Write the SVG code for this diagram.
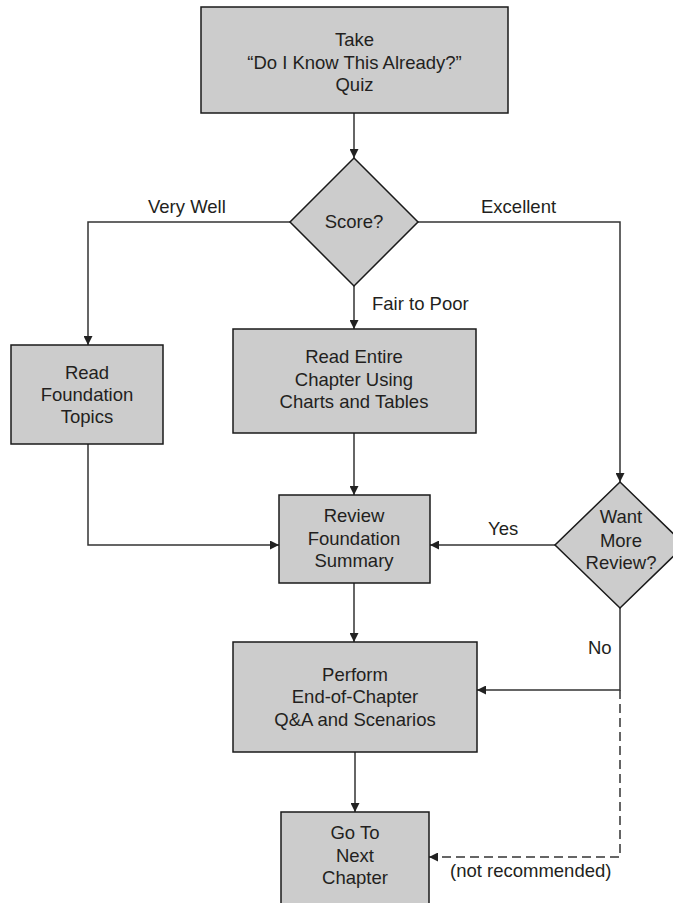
<svg xmlns="http://www.w3.org/2000/svg" width="673" height="903" viewBox="0 0 673 903">
<style>
.box{fill:#cccccc;stroke:#1a1a1a;stroke-width:1.5}
.t{font-family:"Liberation Sans",Arial,sans-serif;font-size:18.5px;fill:#231f20;text-anchor:middle}
.lbl{font-family:"Liberation Sans",Arial,sans-serif;font-size:18.5px;fill:#231f20}
.c{fill:none;stroke:#333;stroke-width:1.5}
.d{stroke-dasharray:9 5}
</style>
<defs>
<marker id="ah" viewBox="0 0 10 10" refX="10" refY="5" markerWidth="11" markerHeight="9" markerUnits="userSpaceOnUse" orient="auto">
<path d="M0,0 L10,5 L0,10 z" fill="#222"/>
</marker>
</defs>
<rect width="673" height="903" fill="#fff"/>
<g id="connectors">
<path class="c" d="M354,113 V158" marker-end="url(#ah)"/>
<path class="c" d="M290,222 H88 V345" marker-end="url(#ah)"/>
<path class="c" d="M354,286 V329" marker-end="url(#ah)"/>
<path class="c" d="M418,222 H620 V482" marker-end="url(#ah)"/>
<path class="c" d="M88,444 V545 H279" marker-end="url(#ah)"/>
<path class="c" d="M354,433 V495" marker-end="url(#ah)"/>
<path class="c" d="M555,545 H430" marker-end="url(#ah)"/>
<path class="c" d="M354,583 V642" marker-end="url(#ah)"/>
<path class="c" d="M620,608 V690 H477" marker-end="url(#ah)"/>
<path class="c d" d="M620,690 V857 H429" marker-end="url(#ah)"/>
<path class="c" d="M355,752 V812" marker-end="url(#ah)"/>
<text class="lbl" x="148" y="213">Very Well</text>
<text class="lbl" x="481" y="213">Excellent</text>
<text class="lbl" x="372" y="310">Fair to Poor</text>
<text class="lbl" x="488" y="535">Yes</text>
<text class="lbl" x="588" y="654">No</text>
<text class="lbl" x="450" y="877">(not recommended)</text>
</g>
<g id="quiz">
<rect class="box" x="201" y="7" width="307" height="106"/>
<text class="t" x="354.5" y="46">Take</text>
<text class="t" x="354.5" y="69">“Do I Know This Already?”</text>
<text class="t" x="354.5" y="91">Quiz</text>
</g>
<g id="score">
<polygon class="box" points="354,158 418,222 354,286 290,222"/>
<text class="t" x="354" y="228">Score?</text>
</g>
<g id="readFoundation">
<rect class="box" x="11" y="345" width="152" height="99"/>
<text class="t" x="87" y="379">Read</text>
<text class="t" x="87" y="401">Foundation</text>
<text class="t" x="87" y="423">Topics</text>
</g>
<g id="readEntire">
<rect class="box" x="233" y="329" width="243" height="104"/>
<text class="t" x="354" y="363">Read Entire</text>
<text class="t" x="354" y="386">Chapter Using</text>
<text class="t" x="354" y="408">Charts and Tables</text>
</g>
<g id="review">
<rect class="box" x="279" y="495" width="151" height="88"/>
<text class="t" x="354" y="522">Review</text>
<text class="t" x="354" y="545">Foundation</text>
<text class="t" x="354" y="567">Summary</text>
</g>
<g id="wantMore">
<polygon class="box" points="620,482 685,545 620,608 555,545"/>
<text class="t" x="621" y="523">Want</text>
<text class="t" x="621" y="547">More</text>
<text class="t" x="621" y="569">Review?</text>
</g>
<g id="perform">
<rect class="box" x="233" y="642" width="244" height="110"/>
<text class="t" x="355" y="681">Perform</text>
<text class="t" x="355" y="703">End-of-Chapter</text>
<text class="t" x="355" y="726">Q&amp;A and Scenarios</text>
</g>
<g id="nextChapter">
<rect class="box" x="281" y="812" width="148" height="100"/>
<text class="t" x="355" y="839">Go To</text>
<text class="t" x="355" y="862">Next</text>
<text class="t" x="355" y="884">Chapter</text>
</g>
</svg>
